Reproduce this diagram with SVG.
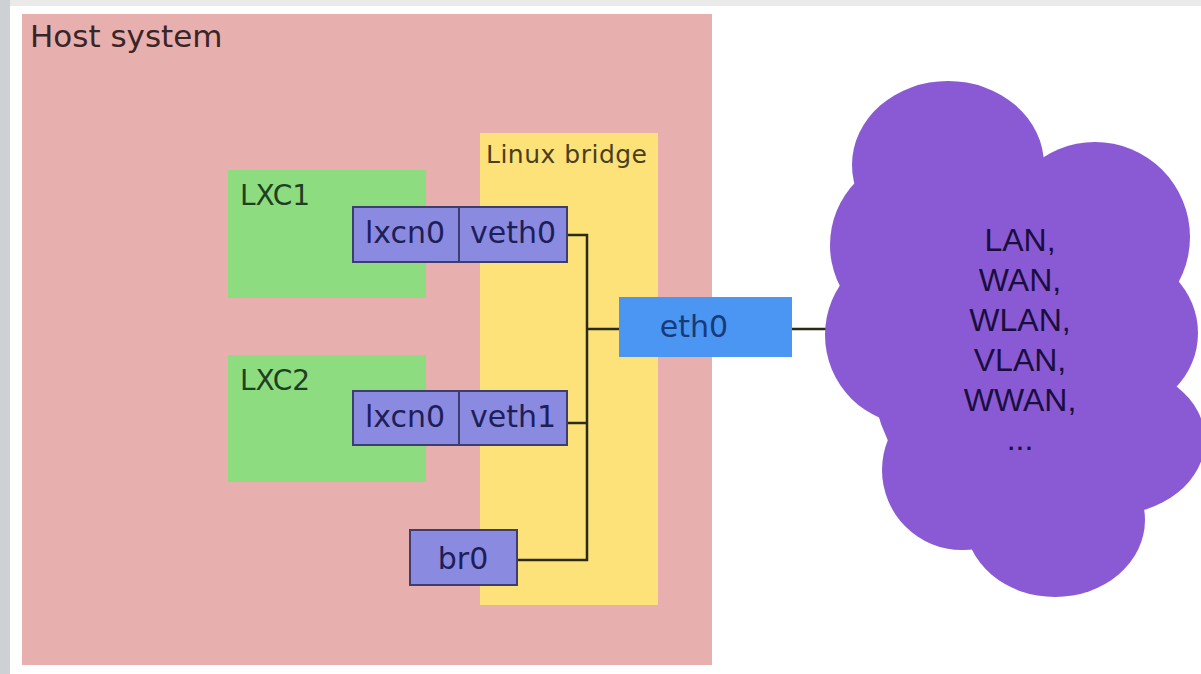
<svg xmlns="http://www.w3.org/2000/svg" width="1201" height="674" viewBox="0 0 1201 674">
  <style>
    .dv { font-family: "DejaVu Sans", Verdana, sans-serif; }
    .box { fill: #8a8ae0; stroke: #3e3e6e; stroke-width: 2; }
    .boxtxt { font-size: 30px; fill: #1e1e58; }
    .wire { fill: none; stroke: #2b2a14; stroke-width: 2.5; }
    .cloud { fill: #8a5ad4; }
    .cloudtxt { font-family: "Liberation Sans", Arial, sans-serif; font-size: 32px; fill: #1a0e3e; text-anchor: middle; }
  </style>
  <!-- frame -->
  <rect x="0" y="0" width="1201" height="674" fill="#ffffff"/>
  <rect x="0" y="0" width="1201" height="6" fill="#eaeaea"/>
  <rect x="0" y="0" width="10" height="674" fill="#cdd1d4"/>

  <g id="host">
    <rect x="22" y="14" width="690" height="651" fill="#e8afaf"/>
    <text class="dv" x="30" y="47" font-size="31" fill="#3b2426">Host system</text>
  </g>

  <g id="bridge">
    <rect x="480" y="133" width="178" height="472" fill="#fde27a"/>
    <text class="dv" x="486" y="163" font-size="25" fill="#4a3f1c" textLength="161">Linux bridge</text>
  </g>

  <g id="lxc1">
    <rect x="228" y="170" width="198" height="128" fill="#8ddc80"/>
    <text class="dv" x="240" y="205" font-size="28" fill="#1f4020">LXC1</text>
  </g>

  <g id="lxc2">
    <rect x="228" y="355" width="198" height="127" fill="#8ddc80"/>
    <text class="dv" x="240" y="390" font-size="28" fill="#1f4020">LXC2</text>
  </g>

  <g id="connectors">
    <polyline class="wire" points="567,235 587,235 587,560 517,560"/>
    <line class="wire" x1="567" y1="423" x2="587" y2="423"/>
    <line class="wire" x1="587" y1="329" x2="619" y2="329"/>
    <line class="wire" x1="792" y1="329" x2="832" y2="329"/>
  </g>

  <g id="if-lxc1">
    <rect class="box" x="353" y="207" width="214" height="55"/>
    <line x1="459" y1="207" x2="459" y2="262" stroke="#3e3e6e" stroke-width="2"/>
    <text class="dv boxtxt" x="365" y="243">lxcn0</text>
    <text class="dv boxtxt" x="470" y="243">veth0</text>
  </g>

  <g id="if-lxc2">
    <rect class="box" x="353" y="391" width="214" height="54"/>
    <line x1="459" y1="391" x2="459" y2="445" stroke="#3e3e6e" stroke-width="2"/>
    <text class="dv boxtxt" x="365" y="427">lxcn0</text>
    <text class="dv boxtxt" x="470" y="427">veth1</text>
  </g>

  <g id="br0">
    <rect class="box" x="410" y="530" width="107" height="55"/>
    <text class="dv boxtxt" x="463" y="569" text-anchor="middle">br0</text>
  </g>

  <g id="eth0">
    <rect x="619" y="297" width="173" height="60" fill="#4b96f2"/>
    <text class="dv" x="694" y="337" font-size="30" fill="#173a7a" text-anchor="middle">eth0</text>
  </g>

  <g id="network">
    <g class="cloud">
      <ellipse cx="948" cy="165" rx="96" ry="84"/>
      <ellipse cx="1095" cy="237" rx="95" ry="95"/>
      <circle cx="1120" cy="333" r="78"/>
      <ellipse cx="1110" cy="440" rx="95" ry="75"/>
      <ellipse cx="1055" cy="520" rx="90" ry="77"/>
      <circle cx="962" cy="470" r="80"/>
      <circle cx="920" cy="245" r="90"/>
      <circle cx="915" cy="335" r="90"/>
      <ellipse cx="1020" cy="360" rx="150" ry="170"/>
    </g>
    <text class="cloudtxt" x="1020" y="251">LAN,</text>
    <text class="cloudtxt" x="1020" y="291">WAN,</text>
    <text class="cloudtxt" x="1020" y="331">WLAN,</text>
    <text class="cloudtxt" x="1020" y="371">VLAN,</text>
    <text class="cloudtxt" x="1020" y="411">WWAN,</text>
    <text class="cloudtxt" x="1020" y="450">...</text>
  </g>
</svg>
